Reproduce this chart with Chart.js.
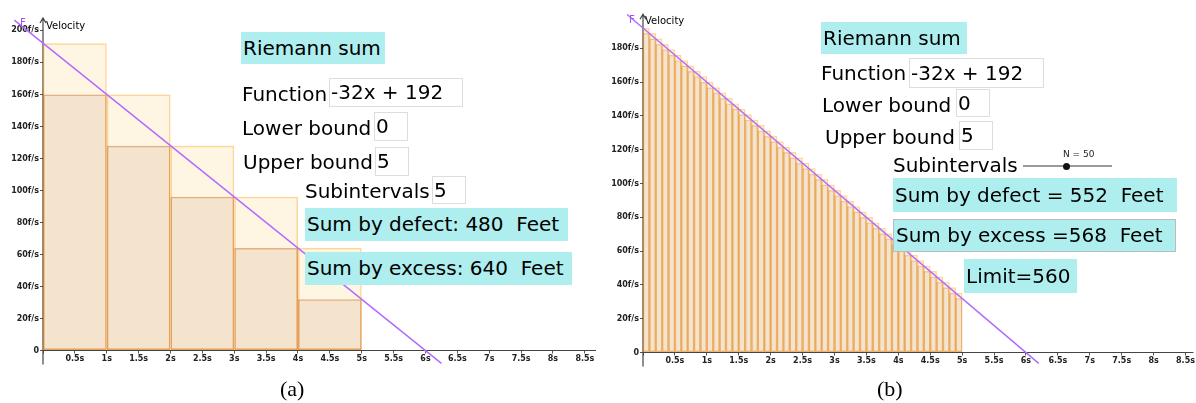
<!DOCTYPE html>
<html>
<head>
<meta charset="utf-8">
<script src="https://cdn.jsdelivr.net/npm/chart.js@4.4.1/dist/chart.umd.min.js"></script>
<style>
  body { margin: 0; background: #fff; }
  #page { position: relative; width: 1196px; height: 403px; overflow: hidden; font-family: 'DejaVu Sans', sans-serif; color: #000; }
  canvas { position: absolute; top: 0; }
  .t { position: absolute; font-size: 20px; white-space: pre; line-height: 24px; }
  .cyan { position: absolute; background: #afeeee; font-size: 20px; white-space: pre; padding-left: 2px; box-sizing: border-box; }
  .inp { position: absolute; background: #fff; border: 1px solid #ddd; font-size: 20px; white-space: pre; box-sizing: border-box; padding-left: 1px; }
  .vel { position: absolute; font-size: 10px; line-height: 12px; }
  .fl { position: absolute; font-size: 10px; color: #a54dff; line-height: 12px; }
  .cap { position: absolute; font-family: 'Liberation Serif', serif; font-size: 22px; line-height: 24px; }
</style>
</head>
<body>
<div id="page">
  <canvas id="chartA" width="598" height="403" style="left:0"></canvas>
  <canvas id="chartB" width="596" height="403" style="left:600px"></canvas>

  <!-- painel (a) -->
  <div class="vel" style="left:46px; top:20px">Velocity</div>
  <div class="fl" style="left:20px; top:17px">F</div>
  <div class="cyan" style="left:241px; top:32px; width:144px; height:32px; line-height:32px">Riemann sum</div>
  <div class="t" style="left:242px; top:82px">Function</div>
  <div class="inp" style="left:329px; top:78px; width:134px; height:29px; line-height:27px">-32x + 192</div>
  <div class="t" style="left:242px; top:116px">Lower bound</div>
  <div class="inp" style="left:374px; top:112px; width:34px; height:29px; line-height:27px">0</div>
  <div class="t" style="left:243px; top:150px">Upper bound</div>
  <div class="inp" style="left:375px; top:147px; width:34px; height:29px; line-height:27px">5</div>
  <div class="t" style="left:305px; top:179px">Subintervals</div>
  <div class="inp" style="left:432px; top:176px; width:34px; height:28px; line-height:26px">5</div>
  <div class="cyan" style="left:305px; top:208px; width:263px; height:33px; line-height:33px">Sum by defect: 480  Feet</div>
  <div class="cyan" style="left:305px; top:252px; width:267px; height:33px; line-height:33px">Sum by excess: 640  Feet</div>
  <div class="cap" style="left:280px; top:377px">(a)</div>

  <!-- painel (b) -->
  <div class="vel" style="left:645px; top:15px">Velocity</div>
  <div class="fl" style="left:629px; top:14px">F</div>
  <div class="cyan" style="left:821px; top:22px; width:146px; height:32px; line-height:32px">Riemann sum</div>
  <div class="t" style="left:821px; top:61px">Function</div>
  <div class="inp" style="left:909px; top:58px; width:135px; height:30px; line-height:28px">-32x + 192</div>
  <div class="t" style="left:822px; top:93px">Lower bound</div>
  <div class="inp" style="left:956px; top:89px; width:34px; height:28px; line-height:26px">0</div>
  <div class="t" style="left:825px; top:125px">Upper bound</div>
  <div class="inp" style="left:959px; top:121px; width:34px; height:29px; line-height:27px">5</div>
  <div class="t" style="left:893px; top:153px">Subintervals</div>
  <div style="position:absolute; left:1023px; top:165px; width:89px; height:2px; background:#999"></div>
  <div style="position:absolute; left:1063px; top:163px; width:7px; height:7px; border-radius:50%; background:#111"></div>
  <div style="position:absolute; left:1063px; top:149px; font-size:9px; line-height:11px; color:#222">N = 50</div>
  <div class="cyan" style="left:893px; top:178px; width:284px; height:34px; line-height:34px">Sum by defect = 552  Feet</div>
  <div class="cyan" style="left:893px; top:219px; width:283px; height:33px; line-height:31px; border:1px solid #bbb">Sum by excess =568  Feet</div>
  <div class="cyan" style="left:964px; top:259px; width:113px; height:34px; line-height:34px">Limit=560</div>
  <div class="cap" style="left:877px; top:377px">(b)</div>
</div>

<script>
// --- dados (a): 5 subintervalos ---
const midA = [0.5, 1.5, 2.5, 3.5, 4.5];
const excessA = [192, 160, 128, 96, 64];
const defectA = [160, 128, 96, 64, 32];
const lineXA = [-0.45, 6.25];
const lineYA = [206.4, -8];

// --- dados (b): 50 subintervalos ---
const midB = [0.05, 0.15, 0.25, 0.35, 0.45, 0.55, 0.65, 0.75, 0.85, 0.95,
              1.05, 1.15, 1.25, 1.35, 1.45, 1.55, 1.65, 1.75, 1.85, 1.95,
              2.05, 2.15, 2.25, 2.35, 2.45, 2.55, 2.65, 2.75, 2.85, 2.95,
              3.05, 3.15, 3.25, 3.35, 3.45, 3.55, 3.65, 3.75, 3.85, 3.95,
              4.05, 4.15, 4.25, 4.35, 4.45, 4.55, 4.65, 4.75, 4.85, 4.95];
const excessB = [192, 188.8, 185.6, 182.4, 179.2, 176, 172.8, 169.6, 166.4, 163.2,
                 160, 156.8, 153.6, 150.4, 147.2, 144, 140.8, 137.6, 134.4, 131.2,
                 128, 124.8, 121.6, 118.4, 115.2, 112, 108.8, 105.6, 102.4, 99.2,
                 96, 92.8, 89.6, 86.4, 83.2, 80, 76.8, 73.6, 70.4, 67.2,
                 64, 60.8, 57.6, 54.4, 51.2, 48, 44.8, 41.6, 38.4, 35.2];
const defectB = [188.8, 185.6, 182.4, 179.2, 176, 172.8, 169.6, 166.4, 163.2, 160,
                 156.8, 153.6, 150.4, 147.2, 144, 140.8, 137.6, 134.4, 131.2, 128,
                 124.8, 121.6, 118.4, 115.2, 112, 108.8, 105.6, 102.4, 99.2, 96,
                 92.8, 89.6, 86.4, 83.2, 80, 76.8, 73.6, 70.4, 67.2, 64,
                 60.8, 57.6, 54.4, 51.2, 48, 44.8, 41.6, 38.4, 35.2, 32];
const lineXB = [-0.25, 6.2];
const lineYB = [200, -6.4];

// sufixos dos rótulos dos eixos
const xUnit = 's';
const yUnit = 'f/s';

// eixos desenhados no zero, com seta no eixo vertical
const axesPlugin = {
    id: 'axes',
    beforeDatasetsDraw(chart) {
        const { ctx, chartArea, scales } = chart;
        const x0 = scales.x.getPixelForValue(0);
        const y0 = scales.y.getPixelForValue(0);
        ctx.save();
        ctx.strokeStyle = '#444';
        ctx.lineWidth = 1.2;
        ctx.beginPath();
        ctx.moveTo(chartArea.left, y0);
        ctx.lineTo(chartArea.right, y0);
        ctx.moveTo(x0, chartArea.bottom + 14);
        ctx.lineTo(x0, chartArea.top - 2);
        ctx.moveTo(x0 - 3, chartArea.top + 3);
        ctx.lineTo(x0, chartArea.top - 2);
        ctx.lineTo(x0 + 3, chartArea.top + 3);
        ctx.stroke();
        ctx.restore();
    }
};

function toPoints(xs, ys) {
    return xs.map((x, i) => ({ x: x, y: ys[i] }));
}

function createRiemannChart(id, cfg) {
    const canvas = document.getElementById(id);
    const tickFont = { family: "'DejaVu Sans', sans-serif", size: 8, weight: 'bold' };
    return new Chart(canvas.getContext('2d'), {
        type: 'bar',
        data: {
            datasets: [
                {
                    // soma por falta (por cima)
                    data: toPoints(cfg.mid, cfg.defect),
                    backgroundColor: 'rgba(153,76,20,0.11)',
                    borderColor: cfg.defectBorder,
                    borderWidth: cfg.border,
                    borderSkipped: false,
                    grouped: false,
                    categoryPercentage: cfg.catPct,
                    barPercentage: 1,
                    order: 1
                },
                {
                    // soma por excesso
                    data: toPoints(cfg.mid, cfg.excess),
                    backgroundColor: 'rgba(255,165,0,0.11)',
                    borderColor: cfg.excessBorder,
                    borderWidth: cfg.border,
                    borderSkipped: false,
                    grouped: false,
                    categoryPercentage: cfg.catPct,
                    barPercentage: 1,
                    order: 2
                },
                {
                    type: 'line',
                    data: toPoints(cfg.lineX, cfg.lineY),
                    borderColor: '#b36bff',
                    borderWidth: 1.5,
                    pointRadius: 0,
                    tension: 0,
                    clip: false,
                    order: 0
                }
            ]
        },
        options: {
            responsive: false,
            animation: false,
            events: [],
            layout: { padding: cfg.padding },
            plugins: {
                legend: { display: false },
                tooltip: { enabled: false }
            },
            scales: {
                x: {
                    type: 'linear',
                    offset: false,
                    min: 0,
                    max: cfg.xMax,
                    ticks: {
                        stepSize: 0.5,
                        includeBounds: false,
                        autoSkip: false,
                        maxRotation: 0,
                        padding: 1,
                        color: '#222',
                        font: tickFont,
                        callback: v => v === 0 ? '' : v + xUnit
                    },
                    grid: { offset: false, drawOnChartArea: false, tickLength: 3, color: '#555' },
                    border: { display: false },
                    afterFit: s => { s.height = 20; }
                },
                y: {
                    type: 'linear',
                    min: 0,
                    max: cfg.yMax,
                    ticks: {
                        stepSize: 20,
                        includeBounds: false,
                        padding: 1,
                        color: '#222',
                        font: tickFont,
                        callback: v => v === 0 ? '0' : v + yUnit
                    },
                    grid: { drawOnChartArea: false, tickLength: 3, color: '#555' },
                    border: { display: false },
                    afterFit: s => { s.width = 43; }
                }
            }
        },
        plugins: [axesPlugin]
    });
}

// (a) com 5 barras o espaçamento mínimo vem dos ticks (0.5), por isso categoryPercentage 2
createRiemannChart('chartA', {
    mid: midA, excess: excessA, defect: defectA, lineX: lineXA, lineY: lineYA,
    xMax: 8.675, yMax: 206.5, catPct: 2, border: 1.5,
    defectBorder: 'rgba(200,110,30,0.5)', excessBorder: 'rgba(255,160,20,0.45)',
    padding: { left: 0, top: 20, right: 2, bottom: 32.5 }
});

createRiemannChart('chartB', {
    mid: midB, excess: excessB, defect: defectB, lineX: lineXB, lineY: lineYB,
    xMax: 8.625, yMax: 199, catPct: 1, border: 0.8,
    defectBorder: 'rgba(210,120,30,0.3)', excessBorder: 'rgba(255,160,20,0.4)',
    padding: { left: 0, top: 16.2, right: 1, bottom: 30.5 }
});
</script>
</body>
</html>
